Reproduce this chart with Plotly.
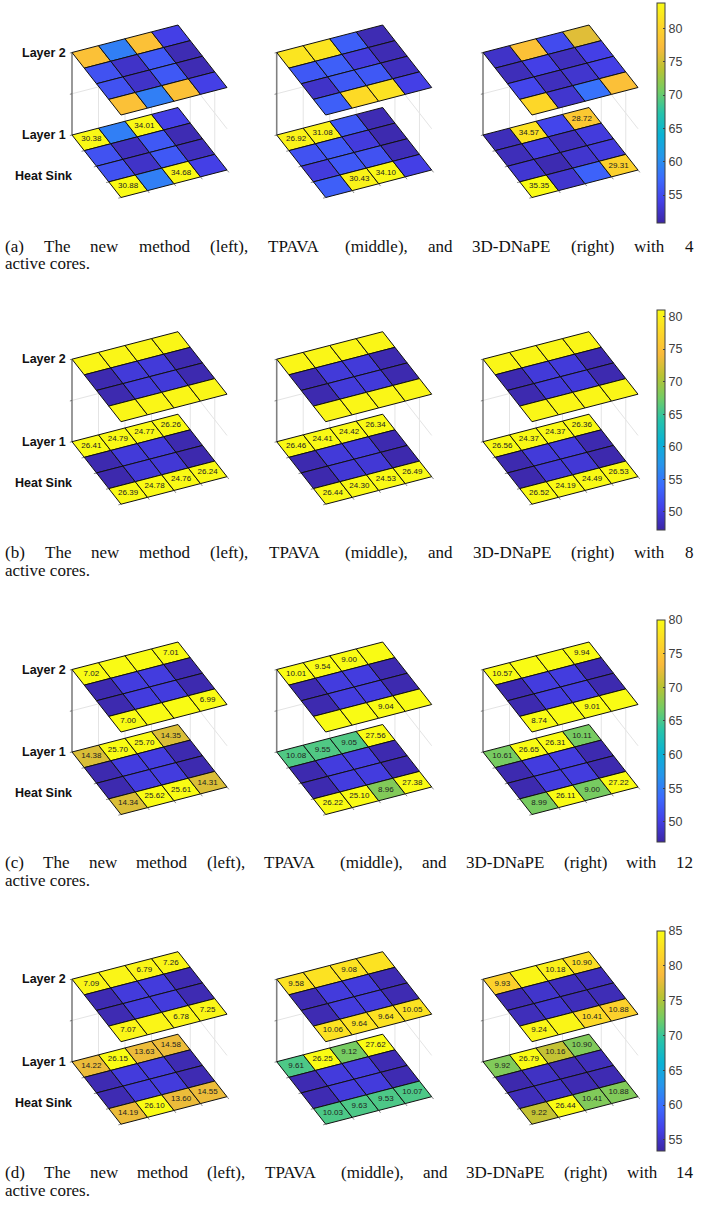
import plotly.graph_objects as go
from plotly.colors import sample_colorscale

PARULA = [[0.0,"rgb(60,38,165)"],[0.1,"rgb(68,64,232)"],[0.2,"rgb(60,106,254)"],[0.3,"rgb(38,150,235)"],
          [0.4,"rgb(10,178,212)"],[0.5,"rgb(38,195,170)"],[0.6,"rgb(115,204,100)"],[0.7,"rgb(185,195,50)"],
          [0.8,"rgb(250,186,60)"],[0.9,"rgb(253,215,40)"],[1.0,"rgb(249,251,20)"]]

# Temperatures (cells r0..r3, c0..c3) ---------------------------------
A_LEFT_L2 = [[78,59,78,54],[55.5,52.5,56,51.5],[55.5,52.5,56,51.5],[78,59,78,54]]
A_LEFT_L1 = [[83.5,59,83.5,54],[55.5,52,56,51.5],[55.5,52.5,56,52],[83.8,59,83.5,54]]
A_MID_L2 = [[81.8,81.8,56.5,51.5],[56,56.5,53.5,51.5],[52.5,56,56,52],[56.5,80.8,81.5,54]]
A_MID_L1 = [[83,83,56,51.5],[55.5,56,53.5,51.3],[53.5,56,55.5,51.7],[56.5,83,83.5,54]]
A_RIGHT_L2 = [[52.5,78,55,75.9],[51.8,54,52,54],[54.5,52,52.8,54],[80.5,52.8,58,77.9]]
A_RIGHT_L1 = [[51.8,81.5,54.5,78.8],[51.8,53.5,51.8,53.5],[53,51.4,52.8,53.5],[83.8,52.8,56.8,79.8]]

B_LEFT_L2 = [[80.5,80.5,80.5,80.5],[47.7,49.8,49.8,47.7],[47.7,49.8,49.8,47.7],[80.5,80.5,80.5,80.5]]
B_LEFT_L1 = [[80.8,80.8,80.8,80.8],[47.7,49.8,49.8,47.7],[47.6,49.6,49.6,47.6],[80.8,80.8,80.8,80.8]]
B_MID_L2 = [[80.5,80.5,80.5,80.5],[47.7,49.8,49.8,47.7],[47.7,49.8,49.8,47.7],[80.5,80.5,80.5,80.5]]
B_MID_L1 = [[80.8,80.8,80.8,80.8],[47.7,49.8,49.8,47.7],[47.6,49.6,49.6,47.6],[80.8,80.8,80.8,80.8]]
B_RIGHT_L2 = [[80.5,80.5,80.5,80.5],[47.7,49.8,49.8,47.7],[47.7,49.8,49.8,47.7],[80.5,80.5,80.5,80.5]]
B_RIGHT_L1 = [[80.8,80.8,80.8,80.8],[47.7,49.8,49.8,47.7],[47.6,49.6,49.6,47.6],[80.8,80.8,80.8,80.8]]

C_LEFT_L2 = [[80,80,80,80],[47.5,49.8,49.8,47.5],[47.5,49.8,49.8,47.5],[80,80,80,80]]
C_LEFT_L1 = [[71.8,80,80,71.8],[47.5,49.8,49.8,47.5],[47.5,49.8,49.8,47.5],[71.8,80,80,71.8]]
C_MID_L2 = [[80,80,80,80],[47.5,49.8,49.8,47.5],[47.5,49.8,49.8,47.5],[80,80,80,80]]
C_MID_L1 = [[65.3,65.3,65.3,80],[47.5,49.8,49.8,47.5],[47.5,49.8,49.8,47.5],[80,80,67.5,80]]
C_RIGHT_L2 = [[80,80,80,80],[47.5,49.8,49.8,47.5],[47.5,49.8,49.8,47.5],[80,80,80,80]]
C_RIGHT_L1 = [[67,80,80,67],[47.5,49.8,49.8,47.5],[47.5,49.8,49.8,47.5],[67,80,67,80]]

D_LEFT_L2 = [[84.5,84.5,84.5,84.5],[54,56,56,54],[54,56,56,54],[84.5,84.5,84.5,84.5]]
D_LEFT_L1 = [[78,85,78,78],[54,56,56,54],[54,56,56,54],[78,85,78,78]]
D_MID_L2 = [[82.8,82.8,82.8,82.8],[54,56,56,54],[54,56,56,54],[82.8,82.8,82.8,82.8]]
D_MID_L1 = [[70.8,85,72.5,85],[54,56,56,54],[54,56,56,54],[70.8,70.8,70.8,70.8]]
D_RIGHT_L2 = [[81.2,84.5,84,82.5],[54,55.2,54.4,54.4],[54.4,55.4,54.4,54.2],[84.5,84.5,82,81.2]]
D_RIGHT_L1 = [[73,85,76,73],[53.8,54.8,54,54.4],[54.4,54.8,54,54],[76,85,73,73]]

# Printed labels on edge rows: [row r0, row r3] ------------------------
N = None
A_LEFT_L1_TXT = [[30.38,N,34.01,N],[30.88,N,34.68,N]]
A_MID_L1_TXT = [[26.92,31.08,N,N],[N,30.43,34.10,N]]
A_RIGHT_L1_TXT = [[N,34.57,N,28.72],[35.35,N,N,29.31]]
B_LEFT_L1_TXT = [[26.41,24.79,24.77,26.26],[26.39,24.78,24.76,26.24]]
B_MID_L1_TXT = [[26.46,24.41,24.42,26.34],[26.44,24.30,24.53,26.49]]
B_RIGHT_L1_TXT = [[26.56,24.37,24.37,26.36],[26.52,24.19,24.49,26.53]]
C_LEFT_L2_TXT = [[7.02,N,N,7.01],[7.00,N,N,6.99]]
C_LEFT_L1_TXT = [[14.38,25.70,25.70,14.35],[14.34,25.62,25.61,14.31]]
C_MID_L2_TXT = [[10.01,9.54,9.00,N],[N,N,9.04,N]]
C_MID_L1_TXT = [[10.08,9.55,9.05,27.56],[26.22,25.10,8.96,27.38]]
C_RIGHT_L2_TXT = [[10.57,N,N,9.94],[8.74,N,9.01,N]]
C_RIGHT_L1_TXT = [[10.61,26.65,26.31,10.11],[8.99,26.11,9.00,27.22]]
D_LEFT_L2_TXT = [[7.09,N,6.79,7.26],[7.07,N,6.78,7.25]]
D_LEFT_L1_TXT = [[14.22,26.15,13.63,14.58],[14.19,26.10,13.60,14.55]]
D_MID_L2_TXT = [[9.58,N,9.08,N],[10.06,9.64,9.64,10.05]]
D_MID_L1_TXT = [[9.61,26.25,9.12,27.62],[10.03,9.63,9.53,10.07]]
D_RIGHT_L2_TXT = [[9.93,N,10.18,10.90],[9.24,N,10.41,10.88]]
D_RIGHT_L1_TXT = [[9.92,26.79,10.16,10.90],[9.22,26.44,10.41,10.88]]

# Colour-bar ranges and ticks
CB_RANGES = [(50.8,83.8),(47.2,81.0),(47.0,80.0),(53.4,85.0)]
CB_TICKS = [[55,60,65,70,75,80],[50,55,60,65,70,75,80],[50,55,60,65,70,75,80],[55,60,65,70,75,80,85]]

CAPTIONS = ["(a) The new method (left), TPAVA (middle), and 3D-DNaPE (right) with 4",
            "(b) The new method (left), TPAVA (middle), and 3D-DNaPE (right) with 8",
            "(c) The new method (left), TPAVA (middle), and 3D-DNaPE (right) with 12",
            "(d) The new method (left), TPAVA (middle), and 3D-DNaPE (right) with 14"]
CAPTION_2 = "active cores."
LAYER_LABELS = ["Layer 2", "Layer 1", "Heat Sink"]

ROWS = [
    dict(l1=[A_LEFT_L1,A_MID_L1,A_RIGHT_L1], l2=[A_LEFT_L2,A_MID_L2,A_RIGHT_L2],
         t1=[A_LEFT_L1_TXT,A_MID_L1_TXT,A_RIGHT_L1_TXT], t2=[N,N,N]),
    dict(l1=[B_LEFT_L1,B_MID_L1,B_RIGHT_L1], l2=[B_LEFT_L2,B_MID_L2,B_RIGHT_L2],
         t1=[B_LEFT_L1_TXT,B_MID_L1_TXT,B_RIGHT_L1_TXT], t2=[N,N,N]),
    dict(l1=[C_LEFT_L1,C_MID_L1,C_RIGHT_L1], l2=[C_LEFT_L2,C_MID_L2,C_RIGHT_L2],
         t1=[C_LEFT_L1_TXT,C_MID_L1_TXT,C_RIGHT_L1_TXT], t2=[C_LEFT_L2_TXT,C_MID_L2_TXT,C_RIGHT_L2_TXT]),
    dict(l1=[D_LEFT_L1,D_MID_L1,D_RIGHT_L1], l2=[D_LEFT_L2,D_MID_L2,D_RIGHT_L2],
         t1=[D_LEFT_L1_TXT,D_MID_L1_TXT,D_RIGHT_L1_TXT], t2=[D_LEFT_L2_TXT,D_MID_L2_TXT,D_RIGHT_L2_TXT]),
]

# Layout / projection --------------------------------------------------
W, H = 717, 1207
PANEL_X = [72.0, 276.7, 483.0]
ROW_L1_Y = [135.0, 441.7, 752.0, 1061.7]
LAYER_DZ = 82.5
U = (106.0/4, -27.5/4)   # one cell along the column direction
V = (49.0/4, 62.5/4)     # one cell along the row direction
CB_BOX = [(3,223),(310,530),(620,842),(931,1151)]
CB_X, CB_W = 657.3, 8
CAP_Y = [(246,263),(552,570),(862,880),(1172,1190)]
CAP_SIZE = 17
CAP_L, CAP_R = 5.0, 693.0

# Times advance widths (per 1000 em), used to justify the caption lines
TIMES = {"(":333,")":333,"a":444,"b":500,"c":444,"d":500,"e":444,"f":333,"h":500,"i":278,"l":278,"m":778,"n":500,
         "o":500,"r":333,"s":389,"t":278,"v":500,"w":722,"g":500,"T":611,"P":556,"A":722,"V":722,"D":722,"N":722,
         "E":611,",":250,".":250,"-":333}
def word_w(w):
    return sum(TIMES.get(ch, 500) for ch in w)*CAP_SIZE/1000

def proj(x0, y0, c, r, z=0.0):
    return (x0 + U[0]*c + V[0]*r, y0 + U[1]*c + V[1]*r - LAYER_DZ*z)

fig = go.Figure()

def line(pts, color, width):
    fig.add_trace(go.Scatter(x=[p[0] for p in pts], y=[p[1] for p in pts], mode="lines",
                             line=dict(color=color, width=width), hoverinfo="skip", showlegend=False))

def plate(grid, x0, y0, z, cmin, cmax, txt):
    for r in range(4):
        for c in range(4):
            corners = [proj(x0,y0,c,r,z),proj(x0,y0,c+1,r,z),proj(x0,y0,c+1,r+1,z),proj(x0,y0,c,r+1,z),proj(x0,y0,c,r,z)]
            col = sample_colorscale(PARULA, [(grid[r][c]-cmin)/(cmax-cmin)])[0]
            fig.add_trace(go.Scatter(x=[p[0] for p in corners], y=[p[1] for p in corners], mode="lines",
                                     fill="toself", fillcolor=col, line=dict(color="#111111", width=1.0),
                                     hoverinfo="skip", showlegend=False))
    if txt:
        xs, ys, ts = [], [], []
        for row_i, r in enumerate((0, 3)):
            for c in range(4):
                v = txt[row_i][c]
                if v is not None:
                    p = proj(x0, y0, c+0.5, r+0.5, z)
                    xs.append(p[0]); ys.append(p[1]); ts.append(f"{v:.2f}")
        fig.add_trace(go.Scatter(x=xs, y=ys, text=ts, mode="text", hoverinfo="skip", showlegend=False,
                                 textposition="middle center",
                                 textfont=dict(family="Liberation Sans", size=8, color="#222222")))

GRID = "#e4e4e4"
for ri, row in enumerate(ROWS):
    y0 = ROW_L1_Y[ri]
    cmin, cmax = CB_RANGES[ri]
    for pi, x0 in enumerate(PANEL_X):
        line([proj(x0,y0,0,0,0.5),proj(x0,y0,4,0,0.5),proj(x0,y0,4,4,0.5)], GRID, 1)
        for c in (1,2,3):
            line([proj(x0,y0,c,0,0),proj(x0,y0,c,0,1)], GRID, 1)
        for r in (1,3):
            line([proj(x0,y0,4,r,0),proj(x0,y0,4,r,1)], GRID, 1)
        zcol, zw = ("#808080",1.6) if pi<2 else ("#333333",1.0)
        line([proj(x0,y0,0,0,0),proj(x0,y0,0,0,1)], zcol, zw)
        for z in (0,0.5,1):
            line([proj(x0,y0,0,0,z),proj(x0,y0,-0.08,0,z)], "#555555", 0.7)
        for r in (1,2,3,4):
            line([proj(x0,y0,0,r,0),proj(x0,y0,-0.1,r,0)], "#555555", 0.7)
        for c in (1,2,3,4):
            line([proj(x0,y0,c,4,0),proj(x0,y0,c,4.15,0)], "#555555", 0.7)
        plate(row["l1"][pi], x0, y0, 0, cmin, cmax, row["t1"][pi])
        plate(row["l2"][pi], x0, y0, 1, cmin, cmax, row["t2"][pi])
    top, bot = CB_BOX[ri]
    fig.add_trace(go.Scatter(x=[-50,-50], y=[-50,-50], mode="markers", hoverinfo="skip", showlegend=False,
        marker=dict(color=[cmin,cmax], cmin=cmin, cmax=cmax, colorscale=PARULA, showscale=True, size=1,
            colorbar=dict(x=CB_X/W, xanchor="left", xref="paper", y=1-top/H, yanchor="top", yref="paper",
                          len=bot-top, lenmode="pixels", thickness=CB_W, thicknessmode="pixels",
                          xpad=0, ypad=0, outlinecolor="#404040", outlinewidth=1, borderwidth=0,
                          ticks="inside", ticklen=2, tickcolor="#404040", tickwidth=0.7,
                          tickmode="array", tickvals=CB_TICKS[ri], ticktext=[str(t) for t in CB_TICKS[ri]],
                          tickfont=dict(family="Liberation Sans", size=12.5, color="#404040")))))

ann = []
def text(x, y, s, size, anchor="left", bold=False, fam="Liberation Sans", color="#111111"):
    ann.append(dict(x=x, y=y, xref="x", yref="y", text=f"<b>{s}</b>" if bold else s, showarrow=False,
                    xanchor=anchor, yanchor="middle", borderpad=0, borderwidth=0,
                    font=dict(family=fam, size=size, color=color)))

def justified(s, y):
    words = s.split(" ")
    total = sum(word_w(w) for w in words)
    gap = (CAP_R - CAP_L - total)/(len(words)-1)
    x = CAP_L
    for w in words:
        text(x, y, w, CAP_SIZE, fam="Liberation Serif")
        x += word_w(w) + gap

for ri, y0 in enumerate(ROW_L1_Y):
    text(66, y0-LAYER_DZ, LAYER_LABELS[0], 12.5, "right", True)
    text(66, y0, LAYER_LABELS[1], 12.5, "right", True)
    text(72, y0+41, LAYER_LABELS[2], 12.5, "right", True)
    justified(CAPTIONS[ri], CAP_Y[ri][0])
    text(CAP_L, CAP_Y[ri][1], CAPTION_2, CAP_SIZE, fam="Liberation Serif")

fig.update_layout(width=W, height=H, margin=dict(l=0,r=0,t=0,b=0,pad=0,autoexpand=False),
                  paper_bgcolor="white", plot_bgcolor="white", showlegend=False, annotations=ann,
                  xaxis=dict(range=[0,W], visible=False, fixedrange=True),
                  yaxis=dict(range=[H,0], visible=False, fixedrange=True))
fig.write_html("out.html", config=dict(displayModeBar=False),
               post_script="document.body.style.margin='0';")
